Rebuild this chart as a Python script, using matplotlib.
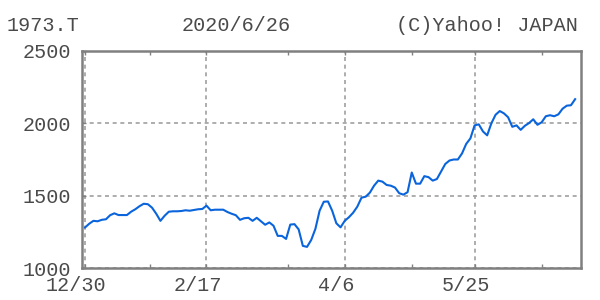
import numpy as np
import matplotlib
matplotlib.use('Agg')
import matplotlib.pyplot as plt
from matplotlib.transforms import ScaledTranslation

# closing prices, one per trading day, 2019/12/30 .. 2020/6/26
prices = [
    1280, 1306, 1326, 1323, 1333, 1337, 1365, 1378, 1366, 1366,
    1366, 1389, 1406, 1427, 1444, 1441, 1417, 1375, 1326, 1361,
    1389, 1392, 1392, 1394, 1399, 1396, 1401, 1406, 1408, 1431,
    1399, 1403, 1403, 1403, 1387, 1375, 1365, 1333, 1344, 1347,
    1326, 1347, 1323, 1299, 1315, 1292, 1222, 1222, 1201, 1300,
    1303, 1267, 1153, 1146, 1194, 1271, 1396, 1458, 1460, 1396,
    1309, 1281, 1326, 1351, 1382, 1424, 1486, 1493, 1521, 1569,
    1604, 1597, 1574, 1569, 1556, 1517, 1507, 1524, 1660, 1583,
    1583, 1635, 1628, 1604, 1615, 1667, 1719, 1743, 1750, 1750,
    1792, 1858, 1896, 1986, 1993, 1944, 1917, 2000, 2059, 2085,
    2069, 2042, 1976, 1986, 1955, 1983, 2002, 2028, 1990, 2007,
    2049, 2056, 2049, 2062, 2101, 2122, 2125, 2167,
]
date_ticks = [0, 29, 62, 93]
date_labels = ['12/30', '2/17', '4/6', '5/25']
price_ticks = [1000, 1500, 2000, 2500]

symbol = '1973.T'
as_of = '2020/6/26'
credit = '(C)Yahoo! JAPAN'

font = 'Liberation Mono'
txt = '#4a4a4a'
frame = '#808080'

fig = plt.figure(figsize=(6, 3), dpi=100)
ax = fig.add_axes([82/600, 32/300, 499/600, 217/300])

days = np.arange(len(prices))
ax.plot(days, prices, color='#0a64dc', lw=1.5, solid_joinstyle='round')

ax.set_xlim(-0.72, 118.4)
ax.set_ylim(1000, 2500)

ax.set_xticks(date_ticks)
ax.set_xticklabels(date_labels)
ax.set_yticks(price_ticks)
ax.set_yticklabels([str(p) for p in price_ticks])
ax.set_xticks([15.5, 48.5, 78, 109], minor=True)

ax.grid(True, which='major', color='#a0a0a0', ls=(0, (2.4, 2.2)), lw=1.2)
ax.tick_params(which='both', direction='in', length=3, color=frame,
               top=True, width=1)
ax.tick_params(axis='x', pad=6)
ax.tick_params(axis='y', pad=8)
for lab in ax.get_xticklabels() + ax.get_yticklabels():
    lab.set_fontfamily(font)
    lab.set_fontsize(14.5)
    lab.set_color(txt)
shift = ScaledTranslation(-9/100, 0, fig.dpi_scale_trans)
for lab in ax.get_xticklabels():
    lab.set_transform(lab.get_transform() + shift)

for s in ax.spines.values():
    s.set_color(frame)
    s.set_linewidth(1.8)

fig.text(7/600, 0.915, symbol, family=font, fontsize=14.5, color=txt,
         ha='left', va='center')
fig.text(236/600, 0.915, as_of, family=font, fontsize=14.5, color=txt,
         ha='center', va='center')
fig.text(578/600, 0.915, credit, family=font, fontsize=14.5, color=txt,
         ha='right', va='center')

fig.savefig('out.png', dpi=100, facecolor='white')
